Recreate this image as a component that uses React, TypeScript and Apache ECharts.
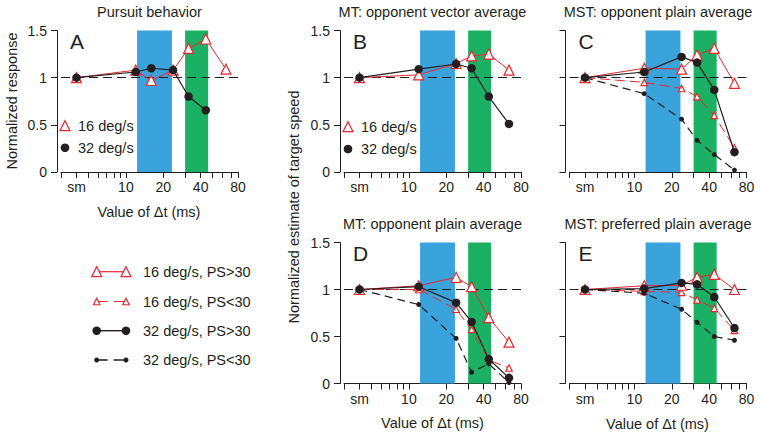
import React, { useEffect, useRef } from 'react';
import * as echarts from 'echarts';

// ---------- data ----------
const deltaT: (string | number)[] = ['sm', 12, 16, 24, 32, 44, 64];
const SM_POSITION = 4; // where "sm" sits on the log Δt axis
const xTickValues = [3, 4, 5, 6, 7, 8, 9, 10, 20, 30, 40, 50, 60, 70, 80];
const xTickLabelText = ['sm', '10', '20', '40', '80'];
const xTickLabelPos = [4, 10, 20, 40, 80];
const yTickValues = [0, 0.5, 1, 1.5];
const blueBand = [12.3, 23.5];
const greenBand = [30, 46];

// Panel A: pursuit behavior
const pursuit16 = [1.0, 1.08, 0.97, 1.08, 1.31, 1.41, 1.09];
const pursuit32 = [1.0, 1.06, 1.1, 1.08, 0.8, 0.655, null];
// Panel B: MT opponent vector average
const mtVec16 = [1.0, 1.03, null, 1.15, 1.23, 1.25, 1.08];
const mtVec32 = [1.0, 1.09, null, 1.145, 1.1, 0.8, 0.51];
// Panel C: MST opponent plain average
const mstOpp16Hi = [1.0, 1.1, null, 1.09, 1.24, 1.31, 0.94];
const mstOpp32Hi = [1.0, 1.06, null, 1.22, 1.16, 0.87, 0.21];
const mstOpp16Lo = [1.0, 0.95, null, 0.885, 0.8, 0.6, 0.255];
const mstOpp32Lo = [1.0, 0.83, null, 0.56, 0.335, 0.185, 0.02];
// Panel D: MT opponent plain average
const mtPlain16Hi = [1.0, 1.04, null, 1.13, 1.03, 0.7, 0.44];
const mtPlain32Hi = [1.0, 1.03, null, 0.86, 0.655, 0.26, 0.06];
const mtPlain16Lo = [1.0, 1.0, null, 0.79, 0.575, 0.25, 0.165];
const mtPlain32Lo = [1.0, 0.84, null, 0.48, 0.12, 0.21, 0.01];
// Panel E: MST preferred plain average
const mstPref16Hi = [1.0, 1.04, null, 1.045, 1.13, 1.16, 1.0];
const mstPref32Hi = [1.0, 1.01, null, 1.07, 1.055, 0.92, 0.59];
const mstPref16Lo = [1.0, 0.98, null, 0.97, 0.89, 0.8, 0.565];
const mstPref32Lo = [1.0, 0.96, null, 0.79, 0.65, 0.5, 0.46];

const panelTitles = [
  'Pursuit behavior',
  'MT: opponent vector average',
  'MST: opponent plain average',
  'MT: opponent plain average',
  'MST: preferred plain average',
];
const panelLetters = ['A', 'B', 'C', 'D', 'E'];
const legendLabels = ['16 deg/s, PS>30', '16 deg/s, PS<30', '32 deg/s, PS>30', '32 deg/s, PS<30'];

// ---------- style ----------
const RED = '#e8282d';
const BLACK = '#231f20';
const BLUE = '#3ba3dc';
const GREEN = '#1cb064';
const FONT = '"Liberation Sans", Arial, Helvetica, sans-serif';
const LABEL_MARGIN = 8;

const grids = [
  { left: 61, top: 30.5, width: 177, height: 141.5 },
  { left: 344, top: 30.5, width: 177, height: 141.5 },
  { left: 569.5, top: 30.5, width: 177, height: 141.5 },
  { left: 344, top: 242.5, width: 177, height: 141 },
  { left: 569.5, top: 242.5, width: 177, height: 141 },
];
const showYLabels = [true, true, false, true, false];

const toX = (v: string | number) => Math.log10(v === 'sm' ? SM_POSITION : (v as number));
const X_MIN = Math.log10(xTickValues[0]);
const X_MAX = Math.log10(xTickValues[xTickValues.length - 1]);

// labels inside the axis are drawn by the axis; the label at the axis end
// (which ECharts hides) is placed through the axis scale with convertToPixel
const innerLabelIdx = xTickLabelPos.map((_, k) => k).filter((k) => Math.log10(xTickLabelPos[k]) < X_MAX - 1e-9);
const endLabelIdx = xTickLabelPos.map((_, k) => k).filter((k) => Math.log10(xTickLabelPos[k]) >= X_MAX - 1e-9);

const nearestLabel = (val: number) => {
  let best = 0;
  let bestD = Infinity;
  xTickLabelPos.forEach((p, k) => {
    const d = Math.abs(Math.log10(p) - val);
    if (d < bestD) {
      bestD = d;
      best = k;
    }
  });
  return xTickLabelText[best];
};

type Kind = 'tri' | 'triSmall' | 'dot' | 'dotSmall';

function buildSeries(gridIdx: number, values: (number | null)[], kind: Kind, withMarks: boolean) {
  const data: number[][] = [];
  values.forEach((v, i) => {
    if (v !== null && v !== undefined) data.push([toX(deltaT[i]), v]);
  });
  const isRed = kind === 'tri' || kind === 'triSmall';
  const dashed = kind === 'triSmall' || kind === 'dotSmall';
  const color = isRed ? RED : BLACK;
  const s: any = {
    type: 'line',
    xAxisIndex: gridIdx,
    yAxisIndex: gridIdx,
    data,
    symbol: isRed ? 'triangle' : 'circle',
    symbolSize: kind === 'tri' ? 10 : kind === 'triSmall' ? 6.5 : kind === 'dot' ? 8.5 : 5,
    itemStyle: isRed
      ? { color: '#ffffff', borderColor: RED, borderWidth: 1.2 }
      : { color: BLACK, borderWidth: 0 },
    lineStyle: {
      color,
      width: isRed ? 1 : 1.2,
      type: dashed ? (isRed ? [10, 5] : [8, 5]) : 'solid',
    },
    z: isRed ? 3 : 4,
    silent: true,
  };
  if (withMarks) {
    s.markArea = {
      silent: true,
      data: [
        [{ xAxis: Math.log10(blueBand[0]), itemStyle: { color: BLUE, opacity: 1 } }, { xAxis: Math.log10(blueBand[1]) }],
        [{ xAxis: Math.log10(greenBand[0]), itemStyle: { color: GREEN, opacity: 1 } }, { xAxis: Math.log10(greenBand[1]) }],
      ],
    };
    s.markLine = {
      silent: true,
      symbol: ['none', 'none'],
      label: { show: false },
      lineStyle: { color: BLACK, width: 1, type: [9, 5] },
      data: [{ yAxis: 1 }],
      z: 2,
    };
  }
  return s;
}

function tri(cx: number, cy: number, s: number) {
  return {
    type: 'polygon',
    shape: { points: [[cx, cy - s / 2], [cx + s / 2, cy + s / 2], [cx - s / 2, cy + s / 2]] },
    style: { fill: '#ffffff', stroke: RED, lineWidth: 1.2 },
    z: 10,
  };
}
function dot(cx: number, cy: number, r: number) {
  return { type: 'circle', shape: { cx, cy, r }, style: { fill: BLACK }, z: 10 };
}
function txt(x: number, y: number, text: string, size: number, align = 'left', rotation = 0, vAlign = 'middle') {
  return {
    type: 'text',
    x,
    y,
    rotation,
    z: 10,
    style: {
      text,
      fontSize: size,
      fontFamily: FONT,
      fill: BLACK,
      textAlign: align,
      align,
      textVerticalAlign: vAlign,
      verticalAlign: vAlign,
    },
  };
}

export default function App() {
  const ref = useRef<HTMLDivElement>(null);
  useEffect(() => {
    document.body.style.margin = '0';
    if (!ref.current) return;
    const chart = echarts.init(ref.current, undefined, { renderer: 'svg' });

    const xAxes = grids.map((_, i) => ({
      type: 'value',
      gridIndex: i,
      min: X_MIN,
      max: X_MAX,
      axisLine: { show: true, onZero: false, lineStyle: { color: BLACK, width: 1 } },
      axisTick: {
        show: true,
        length: 6,
        customValues: xTickValues.map((v) => Math.log10(v)),
        lineStyle: { color: BLACK, width: 1 },
      },
      axisLabel: {
        show: true,
        hideOverlap: false,
        customValues: innerLabelIdx.map((k) => Math.log10(xTickLabelPos[k])),
        formatter: (val: number) => nearestLabel(val),
        fontSize: 14,
        fontFamily: FONT,
        color: BLACK,
        margin: LABEL_MARGIN,
      },
      splitLine: { show: false },
    }));

    const yAxes = grids.map((_, i) => ({
      type: 'value',
      gridIndex: i,
      min: 0,
      max: 1.5,
      interval: 0.5,
      offset: 4,
      axisLine: { show: true, lineStyle: { color: BLACK, width: 1 } },
      axisTick: { show: true, length: 6, customValues: yTickValues, lineStyle: { color: BLACK, width: 1 } },
      axisLabel: {
        show: showYLabels[i],
        showMinLabel: true,
        showMaxLabel: true,
        fontSize: 14,
        fontFamily: FONT,
        color: BLACK,
        margin: 10,
      },
      splitLine: { show: false },
    }));

    const series = [
      buildSeries(0, pursuit16, 'tri', true),
      buildSeries(0, pursuit32, 'dot', false),
      buildSeries(1, mtVec16, 'tri', true),
      buildSeries(1, mtVec32, 'dot', false),
      buildSeries(2, mstOpp16Lo, 'triSmall', true),
      buildSeries(2, mstOpp32Lo, 'dotSmall', false),
      buildSeries(2, mstOpp16Hi, 'tri', false),
      buildSeries(2, mstOpp32Hi, 'dot', false),
      buildSeries(3, mtPlain16Lo, 'triSmall', true),
      buildSeries(3, mtPlain32Lo, 'dotSmall', false),
      buildSeries(3, mtPlain16Hi, 'tri', false),
      buildSeries(3, mtPlain32Hi, 'dot', false),
      buildSeries(4, mstPref16Lo, 'triSmall', true),
      buildSeries(4, mstPref32Lo, 'dotSmall', false),
      buildSeries(4, mstPref16Hi, 'tri', false),
      buildSeries(4, mstPref32Hi, 'dot', false),
    ];

    const graphics: any[] = [];
    // panel titles
    const titleY = [12, 12, 12, 224, 224];
    grids.forEach((g, i) => {
      graphics.push(txt(g.left + g.width / 2, titleY[i], panelTitles[i], 14.5, 'center'));
      graphics.push(txt(g.left + 9, g.top + 11, panelLetters[i], 21, 'left'));
    });
    // axis titles
    graphics.push(txt(149, 212, 'Value of \u0394t (ms)', 14.5, 'center'));
    graphics.push(txt(432.5, 422.5, 'Value of \u0394t (ms)', 14.5, 'center'));
    graphics.push(txt(657.5, 423.5, 'Value of \u0394t (ms)', 14.5, 'center'));
    graphics.push(txt(12, 101, 'Normalized response', 14.5, 'center', Math.PI / 2));
    graphics.push(txt(293.5, 207, 'Normalized estimate of target speed', 14.5, 'center', Math.PI / 2));

    // in-panel legends (A and B)
    const inLegends = [
      { x: 65, y1: 125.7, y2: 147.7 },
      { x: 348, y1: 126.7, y2: 149 },
    ];
    inLegends.forEach((l) => {
      graphics.push(tri(l.x, l.y1, 10));
      graphics.push(txt(l.x + 13, l.y1, '16 deg/s', 14.5));
      graphics.push(dot(l.x, l.y2, 4.3));
      graphics.push(txt(l.x + 13, l.y2, '32 deg/s', 14.5));
    });

    // bottom-left legend
    const rowY = [271.7, 301.5, 330.7, 360];
    const lx1 = 96.7;
    const lx2 = 126;
    rowY.forEach((y, i) => {
      const isRed = i < 2;
      const dashed = i % 2 === 1;
      graphics.push({
        type: 'line',
        shape: { x1: lx1, y1: y, x2: lx2, y2: y },
        style: {
          stroke: isRed ? RED : BLACK,
          lineWidth: isRed ? 1.2 : 1.4,
          lineDash: dashed ? [11, 6] : null,
        },
        z: 9,
      });
      if (isRed) {
        const s = dashed ? 6.5 : 10;
        graphics.push(tri(lx1, y, s));
        graphics.push(tri(lx2, y, s));
      } else {
        const r = dashed ? 2.5 : 4.3;
        graphics.push(dot(lx1, y, r));
        graphics.push(dot(lx2, y, r));
      }
      graphics.push(txt(143, y, legendLabels[i], 14.5));
    });

    chart.setOption({
      animation: false,
      backgroundColor: '#ffffff',
      grid: grids.map((g) => ({ ...g, containLabel: false })),
      xAxis: xAxes,
      yAxis: yAxes,
      series,
      graphic: { elements: graphics },
    });

    // end-of-axis tick labels, positioned through each axis' own scale
    const endLabels: any[] = [];
    grids.forEach((_, i) => {
      endLabelIdx.forEach((k) => {
        const px = chart.convertToPixel({ xAxisIndex: i }, Math.log10(xTickLabelPos[k])) as number;
        const py = chart.convertToPixel({ yAxisIndex: i }, 0) as number;
        if (typeof px === 'number' && typeof py === 'number' && isFinite(px) && isFinite(py)) {
          endLabels.push(txt(px, py + LABEL_MARGIN, xTickLabelText[k], 14, 'center', 0, 'top'));
        }
      });
    });
    if (endLabels.length) {
      chart.setOption({ graphic: { elements: [...graphics, ...endLabels] } });
    }
    return () => chart.dispose();
  }, []);
  return <div ref={ref} style={{ width: 761, height: 438 }} />;
}
